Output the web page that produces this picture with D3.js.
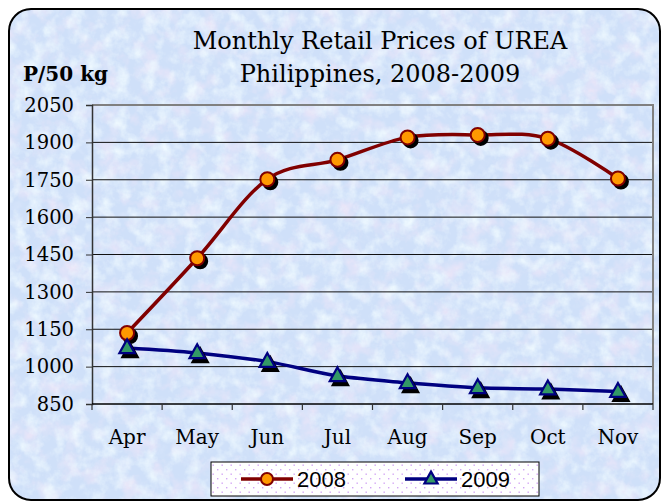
<!DOCTYPE html>
<html>
<head>
<meta charset="utf-8">
<script src="https://cdn.jsdelivr.net/npm/d3@7"></script>
<style>
  body { margin: 0; background: #fff; }
  svg text { fill: #000; }
</style>
</head>
<body>
<div id="chart"></div>
<script>
var months = ["Apr", "May", "Jun", "Jul", "Aug", "Sep", "Oct", "Nov"];
var prices2008 = [1135, 1435, 1752, 1830, 1920, 1930, 1915, 1755];
var prices2009 = [1075, 1055, 1020, 963, 935, 915, 910, 900];
var yTicks = [850, 1000, 1150, 1300, 1450, 1600, 1750, 1900, 2050];

var series = [
    { name: "2008", values: prices2008, line: "#800000", fill: "#ff9900", stroke: "#800000", shape: "circle" },
    { name: "2009", values: prices2009, line: "#000080", fill: "#339966", stroke: "#000080", shape: "triangle" }
];

var W = 663, H = 501;
var plot = { left: 92, right: 653, top: 105, bottom: 404 };

var svg = d3.select("#chart").append("svg")
    .attr("width", W)
    .attr("height", H);

var defs = svg.append("defs");

// textured background: pale blue with fine pink / cyan speckle
var addTexture = function(id, freq, seed, rgb, a, b) {
    var f = defs.append("filter").attr("id", id)
        .attr("x", 0).attr("y", 0).attr("width", "100%").attr("height", "100%");
    f.append("feTurbulence").attr("type", "fractalNoise").attr("baseFrequency", freq)
        .attr("numOctaves", 4).attr("seed", seed).attr("result", "n");
    f.append("feColorMatrix").attr("in", "n").attr("type", "matrix")
        .attr("values", "0 0 0 0 " + rgb[0] + "  0 0 0 0 " + rgb[1] + "  0 0 0 0 " + rgb[2] + "  " + a + " 0 0 0 " + b);
};
addTexture("pinkTex", "0.05", 7, [0.89, 0.80, 0.94], 1.8, -0.85);
addTexture("blueTex", "0.09", 21, [0.72, 0.81, 0.97], 1.3, -0.7);
addTexture("lightTex", "0.07", 44, [0.86, 0.95, 1.0], 2.0, -0.85);

defs.append("clipPath").attr("id", "frameClip")
    .append("rect").attr("x", 9).attr("y", 9).attr("width", 651).attr("height", 491).attr("rx", 22);

var dots = defs.append("pattern").attr("id", "dots")
    .attr("patternUnits", "userSpaceOnUse").attr("width", 9).attr("height", 9);
dots.append("rect").attr("width", 9).attr("height", 9).attr("fill", "#fff");
dots.append("rect").attr("x", 1).attr("y", 1).attr("width", 1.4).attr("height", 1.4).attr("fill", "#d3a6f5");
dots.append("rect").attr("x", 5.5).attr("y", 5.5).attr("width", 1.4).attr("height", 1.4).attr("fill", "#d3a6f5");

var bg = svg.append("g").attr("clip-path", "url(#frameClip)");
bg.append("rect").attr("width", W).attr("height", H).attr("fill", "#cfe0f9");
bg.append("rect").attr("width", W).attr("height", H).attr("filter", "url(#pinkTex)");
bg.append("rect").attr("width", W).attr("height", H).attr("filter", "url(#blueTex)");
bg.append("rect").attr("width", W).attr("height", H).attr("filter", "url(#lightTex)");

svg.append("rect")
    .attr("x", 9).attr("y", 9).attr("width", 651).attr("height", 491).attr("rx", 22)
    .attr("fill", "none").attr("stroke", "#000").attr("stroke-width", 2);

// scales
var x = d3.scaleBand().domain(months).range([plot.left, plot.right]);
var y = d3.scaleLinear().domain([850, 2050]).range([plot.bottom, plot.top]);
var cx = function(i) { return x(months[i]) + x.bandwidth() / 2; };

// gridlines
svg.append("g").selectAll("line")
    .data(yTicks.slice(1, -1))
    .enter().append("line")
    .attr("x1", plot.left).attr("x2", plot.right)
    .attr("y1", function(d) { return y(d); })
    .attr("y2", function(d) { return y(d); })
    .attr("stroke", "#111").attr("stroke-width", 1);

// plot border top/right
svg.append("path")
    .attr("d", "M" + plot.left + "," + y(2050) + "H" + plot.right + "V" + plot.bottom)
    .attr("fill", "none").attr("stroke", "#808080").attr("stroke-width", 2);

// y axis
var yAxis = svg.append("g")
    .attr("transform", "translate(" + plot.left + ",0)")
    .call(d3.axisLeft(y).tickValues(yTicks).tickSize(6).tickPadding(12).tickFormat(d3.format("d")));
yAxis.select(".domain").attr("stroke", "#333").attr("stroke-width", 1.5);
yAxis.selectAll(".tick line").attr("stroke", "#333");
yAxis.selectAll("text")
    .style("font-family", "'DejaVu Serif', serif").style("font-size", "19.5px").attr("fill", "#000");

// x axis (ticks at category boundaries)
var xb = svg.append("g").attr("transform", "translate(0," + plot.bottom + ")");
xb.append("line").attr("x1", plot.left).attr("x2", plot.right)
    .attr("stroke", "#000").attr("stroke-width", 1.5);
xb.selectAll("line.tk")
    .data(months.concat(["end"]))
    .enter().append("line").attr("class", "tk")
    .attr("x1", function(d, i) { return plot.left + i * x.bandwidth(); })
    .attr("x2", function(d, i) { return plot.left + i * x.bandwidth(); })
    .attr("y1", 0).attr("y2", 6)
    .attr("stroke", "#333").attr("stroke-width", 1.2);
xb.selectAll("text")
    .data(months)
    .enter().append("text")
    .attr("x", function(d) { return x(d) + x.bandwidth() / 2; })
    .attr("y", 40)
    .attr("text-anchor", "middle")
    .style("font-family", "'DejaVu Serif', serif").style("font-size", "20px")
    .text(function(d) { return d; });

// lines
var line = d3.line()
    .x(function(d, i) { return cx(i); })
    .y(function(d) { return y(d); })
    .curve(d3.curveCardinal.tension(0));

var tri = function(s) {
    var h = s * 0.9;
    return "M0," + (-h * 0.62) + "L" + (s / 2) + "," + (h * 0.38) + "L" + (-s / 2) + "," + (h * 0.38) + "Z";
};

var drawMarker = function(g, s, px, py, size, shadow) {
    var off = shadow ? 3 : 0;
    if (s.shape === "circle") {
        g.append("circle")
            .attr("cx", px + off).attr("cy", py + off).attr("r", size)
            .attr("fill", shadow ? "#000" : s.fill)
            .attr("stroke", shadow ? "#000" : s.stroke).attr("stroke-width", 2);
    } else {
        g.append("path")
            .attr("d", tri(size * 2.2))
            .attr("transform", "translate(" + (px + off) + "," + (py + off + (shadow ? 1 : 0)) + ")")
            .attr("fill", shadow ? "#000" : s.fill)
            .attr("stroke", shadow ? "#000" : s.stroke).attr("stroke-width", 2.2)
            .attr("stroke-linejoin", "miter");
    }
};

series.forEach(function(s) {
    var g = svg.append("g");
    g.append("path")
        .attr("d", line(s.values))
        .attr("fill", "none")
        .attr("stroke", s.line)
        .attr("stroke-width", 3.5);
    s.values.forEach(function(v, i) { drawMarker(g, s, cx(i), y(v), 7, true); });
    s.values.forEach(function(v, i) { drawMarker(g, s, cx(i), y(v), 7, false); });
});

// titles
var title = svg.append("text")
    .attr("text-anchor", "middle")
    .style("font-family", "'DejaVu Serif', serif").style("font-size", "24px");
title.append("tspan").attr("x", 380).attr("y", 49).text("Monthly Retail Prices of UREA");
title.append("tspan").attr("x", 380).attr("y", 82).text("Philippines, 2008-2009");

svg.append("text")
    .attr("x", 23).attr("y", 81)
    .style("font-family", "'DejaVu Serif', serif").style("font-size", "20px").style("font-weight", "bold")
    .text("P/50 kg");

// legend
var legend = svg.append("g");
legend.append("rect")
    .attr("x", 211).attr("y", 462).attr("width", 328).attr("height", 34)
    .attr("fill", "url(#dots)").attr("stroke", "#000").attr("stroke-width", 1);

var legendX = [241, 405];
series.forEach(function(s, i) {
    var lg = legend.append("g");
    var x0 = legendX[i];
    lg.append("line")
        .attr("x1", x0).attr("x2", x0 + 52).attr("y1", 479).attr("y2", 479)
        .attr("stroke", s.line).attr("stroke-width", 3.5);
    drawMarker(lg, s, x0 + 26, 479, 6, false);
    lg.append("text")
        .attr("x", x0 + 56).attr("y", 487)
        .style("font-family", "'Liberation Sans', Arial, sans-serif").style("font-size", "22px")
        .text(s.name);
});
</script>
</body>
</html>
